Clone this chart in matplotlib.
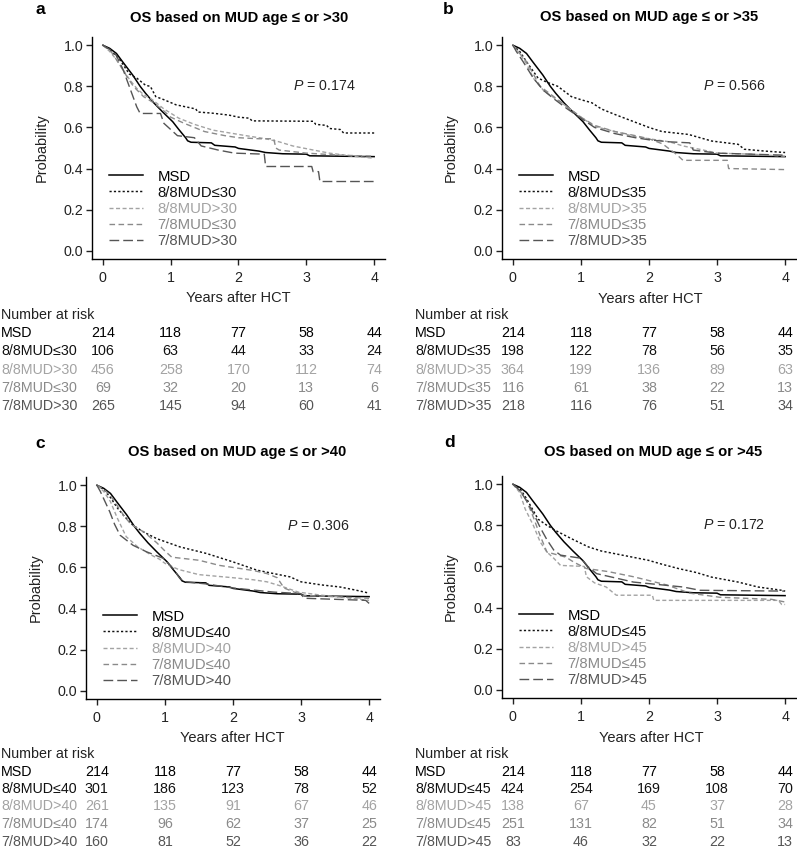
import matplotlib
matplotlib.use('Agg')
import matplotlib.pyplot as plt
from matplotlib.transforms import blended_transform_factory

plt.rcParams['font.family'] = ['Liberation Sans', 'DejaVu Sans']
plt.rcParams['mathtext.fontset'] = 'custom'
plt.rcParams['mathtext.it'] = 'Liberation Sans:italic'
plt.rcParams['mathtext.rm'] = 'Liberation Sans'

# ---------------- data ----------------
YEAR_TICKS = [0, 1, 2, 3, 4]
PROB_TICKS = [0.0, 0.2, 0.4, 0.6, 0.8, 1.0]
PANEL_LETTERS = ['a', 'b', 'c', 'd']
CUTOFFS = [30, 35, 40, 45]
P_VALUES = ['0.174', '0.566', '0.306', '0.172']

# Survival curves: vertices (years, probability)
MSD_T = [0, 0.1, 0.2, 0.29, 0.44, 0.55, 0.63, 0.75, 0.88, 1.03, 1.12, 1.22, 1.25, 1.3, 1.6, 1.65, 1.95, 2.0, 2.3, 2.4, 2.65, 3.0, 3.05, 4.0]
MSD_S = [1.0, 0.985, 0.96, 0.92, 0.855, 0.80, 0.766, 0.72, 0.676, 0.628, 0.59, 0.55, 0.535, 0.528, 0.525, 0.513, 0.505, 0.498, 0.485, 0.478, 0.472, 0.47, 0.462, 0.458]

# Panel a (cutoff 30)
A_88LE_T = [0, 0.1, 0.25, 0.39, 0.5, 0.63, 0.7, 0.78, 0.9, 1.08, 1.37, 1.4, 1.6, 1.86, 2.0, 2.16, 2.2, 3.1, 3.14, 3.3, 3.34, 3.5, 3.55, 4.0]
A_88LE_S = [1.0, 0.98, 0.93, 0.86, 0.84, 0.805, 0.80, 0.75, 0.735, 0.71, 0.69, 0.675, 0.67, 0.66, 0.65, 0.645, 0.632, 0.63, 0.615, 0.61, 0.595, 0.59, 0.573, 0.573]
A_88GT_T = [0, 0.1, 0.2, 0.3, 0.4, 0.5, 0.6, 0.73, 0.9, 1.12, 1.35, 1.62, 2.11, 2.4, 2.6, 2.8, 2.95, 3.34, 3.7, 4.0]
A_88GT_S = [1.0, 0.97, 0.93, 0.88, 0.83, 0.79, 0.76, 0.735, 0.69, 0.645, 0.615, 0.587, 0.56, 0.545, 0.53, 0.51, 0.50, 0.475, 0.46, 0.45]
A_78LE_T = [0, 0.12, 0.24, 0.35, 0.45, 0.6, 0.75, 0.9, 1.0, 1.2, 1.5, 1.8, 2.0, 2.3, 2.52, 2.55, 2.6, 3.0, 3.5, 4.0]
A_78LE_S = [1.0, 0.97, 0.91, 0.85, 0.80, 0.75, 0.72, 0.68, 0.65, 0.62, 0.58, 0.56, 0.55, 0.545, 0.545, 0.50, 0.49, 0.475, 0.465, 0.46]
A_78GT_T = [0, 0.1, 0.2, 0.3, 0.4, 0.5, 0.55, 0.85, 0.9, 1.1, 1.35, 1.45, 1.7, 1.94, 2.38, 2.4, 3.08, 3.1, 3.18, 3.2, 4.0]
A_78GT_S = [1.0, 0.98, 0.95, 0.88, 0.79, 0.70, 0.668, 0.668, 0.62, 0.56, 0.55, 0.51, 0.49, 0.475, 0.47, 0.41, 0.41, 0.385, 0.385, 0.337, 0.337]

# Panel b (cutoff 35)
B_88LE_T = [0, 0.1, 0.2, 0.37, 0.5, 0.66, 0.86, 1.0, 1.16, 1.3, 1.5, 1.84, 2.0, 2.19, 2.58, 2.92, 3.31, 3.4, 3.7, 4.0]
B_88LE_S = [1.0, 0.97, 0.92, 0.84, 0.82, 0.80, 0.75, 0.735, 0.72, 0.69, 0.663, 0.62, 0.60, 0.58, 0.566, 0.534, 0.518, 0.494, 0.485, 0.478]
B_88GT_T = [0, 0.1, 0.2, 0.3, 0.45, 0.6, 0.8, 1.0, 1.2, 1.5, 1.8, 2.0, 2.3, 2.5, 2.8, 3.0, 3.5, 4.0]
B_88GT_S = [1.0, 0.96, 0.91, 0.84, 0.78, 0.745, 0.70, 0.65, 0.605, 0.58, 0.555, 0.545, 0.53, 0.51, 0.49, 0.475, 0.47, 0.46]
B_78LE_T = [0, 0.1, 0.2, 0.3, 0.4, 0.6, 0.8, 1.0, 1.2, 1.5, 1.8, 2.0, 2.2, 2.4, 2.5, 3.15, 3.17, 4.0]
B_78LE_S = [1.0, 0.96, 0.92, 0.86, 0.80, 0.75, 0.70, 0.65, 0.61, 0.58, 0.56, 0.545, 0.52, 0.47, 0.44, 0.44, 0.40, 0.395]
B_78GT_T = [0, 0.05, 0.15, 0.3, 0.45, 0.6, 0.8, 1.0, 1.2, 1.5, 1.8, 2.0, 2.3, 2.6, 2.65, 3.0, 4.0]
B_78GT_S = [1.0, 0.97, 0.92, 0.84, 0.78, 0.74, 0.69, 0.645, 0.60, 0.57, 0.55, 0.54, 0.53, 0.525, 0.49, 0.475, 0.465]

# Panel c (cutoff 40)
C_88LE_T = [0, 0.1, 0.2, 0.3, 0.4, 0.53, 0.7, 0.88, 1.05, 1.22, 1.61, 2.0, 2.35, 2.6, 2.84, 3.0, 3.3, 3.57, 3.8, 4.0]
C_88LE_S = [1.0, 0.98, 0.94, 0.89, 0.85, 0.805, 0.77, 0.74, 0.72, 0.70, 0.668, 0.627, 0.587, 0.57, 0.554, 0.53, 0.515, 0.505, 0.49, 0.475]
C_88GT_T = [0, 0.1, 0.2, 0.3, 0.43, 0.6, 0.8, 0.92, 1.0, 1.2, 1.5, 2.0, 2.3, 2.5, 2.7, 2.96, 3.3, 3.6, 4.0]
C_88GT_S = [1.0, 0.97, 0.92, 0.84, 0.75, 0.70, 0.66, 0.64, 0.62, 0.59, 0.565, 0.55, 0.54, 0.53, 0.51, 0.48, 0.465, 0.455, 0.44]
C_78LE_T = [0, 0.1, 0.2, 0.3, 0.4, 0.5, 0.7, 0.88, 1.0, 1.1, 1.5, 1.8, 2.0, 2.3, 2.5, 2.65, 2.75, 2.9, 3.0, 4.0]
C_78LE_S = [1.0, 0.98, 0.95, 0.90, 0.85, 0.81, 0.77, 0.72, 0.68, 0.65, 0.635, 0.61, 0.60, 0.585, 0.57, 0.55, 0.50, 0.48, 0.465, 0.45]
C_78GT_T = [0, 0.05, 0.12, 0.19, 0.26, 0.34, 0.53, 0.73, 0.98, 1.05, 1.12, 1.22, 1.3, 1.6, 2.0, 2.3, 2.6, 2.99, 3.05, 3.95, 4.0]
C_78GT_S = [1.0, 0.97, 0.92, 0.87, 0.81, 0.757, 0.708, 0.676, 0.644, 0.62, 0.595, 0.546, 0.53, 0.52, 0.50, 0.49, 0.48, 0.473, 0.45, 0.44, 0.425]

# Panel d (cutoff 45)
D_88LE_T = [0, 0.1, 0.2, 0.37, 0.5, 0.62, 0.86, 1.11, 1.3, 1.5, 1.99, 2.2, 2.43, 2.7, 2.92, 3.31, 3.6, 3.95, 4.0]
D_88LE_S = [1.0, 0.98, 0.93, 0.83, 0.80, 0.776, 0.735, 0.695, 0.675, 0.662, 0.63, 0.61, 0.59, 0.57, 0.548, 0.524, 0.50, 0.484, 0.48]
D_88GT_T = [0, 0.1, 0.18, 0.3, 0.4, 0.5, 0.6, 0.7, 1.05, 1.08, 1.2, 1.37, 1.52, 2.05, 2.07, 3.9, 3.95, 4.0]
D_88GT_S = [1.0, 0.96, 0.88, 0.80, 0.72, 0.67, 0.64, 0.605, 0.60, 0.55, 0.52, 0.50, 0.46, 0.46, 0.435, 0.435, 0.415, 0.415]
D_78LE_T = [0, 0.1, 0.2, 0.3, 0.4, 0.5, 0.78, 0.9, 1.08, 1.4, 1.77, 2.26, 2.6, 3.04, 3.8, 4.0]
D_78LE_S = [1.0, 0.97, 0.92, 0.84, 0.75, 0.67, 0.645, 0.62, 0.59, 0.575, 0.55, 0.51, 0.47, 0.45, 0.44, 0.427]
D_78GT_T = [0, 0.1, 0.2, 0.3, 0.4, 0.5, 0.6, 0.7, 1.0, 1.1, 1.23, 1.77, 2.5, 2.75, 4.0]
D_78GT_S = [1.0, 0.97, 0.92, 0.86, 0.79, 0.73, 0.68, 0.655, 0.64, 0.60, 0.565, 0.524, 0.50, 0.484, 0.48]

# Numbers at risk at 0,1,2,3,4 years
MSD_RISK = [214, 118, 77, 58, 44]
A_RISK_88LE = [106, 63, 44, 33, 24]
A_RISK_88GT = [456, 258, 170, 112, 74]
A_RISK_78LE = [69, 32, 20, 13, 6]
A_RISK_78GT = [265, 145, 94, 60, 41]
B_RISK_88LE = [198, 122, 78, 56, 35]
B_RISK_88GT = [364, 199, 136, 89, 63]
B_RISK_78LE = [116, 61, 38, 22, 13]
B_RISK_78GT = [218, 116, 76, 51, 34]
C_RISK_88LE = [301, 186, 123, 78, 52]
C_RISK_88GT = [261, 135, 91, 67, 46]
C_RISK_78LE = [174, 96, 62, 37, 25]
C_RISK_78GT = [160, 81, 52, 36, 22]
D_RISK_88LE = [424, 254, 169, 108, 70]
D_RISK_88GT = [138, 67, 45, 37, 28]
D_RISK_78LE = [251, 131, 82, 51, 34]
D_RISK_78GT = [83, 46, 32, 22, 13]

# ---------------- styles / layout ----------------
COLORS = ['#000000', '#111111', '#a3a3a3', '#8a8a8a', '#555555']
DASHES = [None, (1.5, 1.5), (2.9, 1.8), (4.0, 2.5), (7.0, 2.9)]
LWS = [1.1, 1.05, 1.0, 1.0, 1.0]
FS_TICK = 10.3
FS_LAB = 10.5
FS_TABLE = 10.3
FS_LEG = 10.7
FS_TITLE = 10.6

W, H = 797, 850
fig = plt.figure(figsize=(W / 100, H / 100), dpi=100)

def fx(px):
    return px / W

def fy(py):
    return 1 - py / H

# axes rectangles in pixels: left, top, right, bottom
AX_PX = [(92, 37, 385, 259), (502, 37, 796, 259), (86, 477, 380, 699), (502, 476, 796, 698)]
LETTER_PX = [(40, 10), (448, 9), (40, 444), (450, 443)]
TITLE_PX = [(239, 18), (649, 17), (237, 452), (653, 452)]
YLAB_PX = [(42, 148), (451, 148), (36, 588), (451, 587)]
XLAB_PX = [(238, 298), (650, 299), (232, 738), (651, 738)]
TABLE_LABEL_X = [1, 415, 1, 415]
TABLE_Y0 = [315, 315, 754, 754]
ROW_STEP = [18.2, 18.2, 17.5, 17.5]

curves = [
    [(MSD_T, MSD_S), (A_88LE_T, A_88LE_S), (A_88GT_T, A_88GT_S), (A_78LE_T, A_78LE_S), (A_78GT_T, A_78GT_S)],
    [(MSD_T, MSD_S), (B_88LE_T, B_88LE_S), (B_88GT_T, B_88GT_S), (B_78LE_T, B_78LE_S), (B_78GT_T, B_78GT_S)],
    [(MSD_T, MSD_S), (C_88LE_T, C_88LE_S), (C_88GT_T, C_88GT_S), (C_78LE_T, C_78LE_S), (C_78GT_T, C_78GT_S)],
    [(MSD_T, MSD_S), (D_88LE_T, D_88LE_S), (D_88GT_T, D_88GT_S), (D_78LE_T, D_78LE_S), (D_78GT_T, D_78GT_S)],
]
risks = [
    [MSD_RISK, A_RISK_88LE, A_RISK_88GT, A_RISK_78LE, A_RISK_78GT],
    [MSD_RISK, B_RISK_88LE, B_RISK_88GT, B_RISK_78LE, B_RISK_78GT],
    [MSD_RISK, C_RISK_88LE, C_RISK_88GT, C_RISK_78LE, C_RISK_78GT],
    [MSD_RISK, D_RISK_88LE, D_RISK_88GT, D_RISK_78LE, D_RISK_78GT],
]

for i in range(4):
    l, t, r, b = AX_PX[i]
    ax = fig.add_axes([fx(l), fy(b), fx(r - l), (b - t) / H])
    c = CUTOFFS[i]
    labels = ['MSD', f'8/8MUD\u2264{c}', f'8/8MUD>{c}', f'7/8MUD\u2264{c}', f'7/8MUD>{c}']
    for k, (tt, ss) in enumerate(curves[i]):
        ln, = ax.plot(tt, ss, color=COLORS[k], lw=LWS[k], label=labels[k])
        if DASHES[k] is not None:
            ln.set_dashes(DASHES[k])
    ax.set_xlim(-0.16, 4.16)
    ax.set_ylim(-0.04, 1.04)
    ax.set_xticks(YEAR_TICKS)
    ax.set_yticks(PROB_TICKS)
    ax.set_yticklabels([f'{v:.1f}' for v in PROB_TICKS])
    for side in ['top', 'right']:
        ax.spines[side].set_visible(False)
    for side in ['left', 'bottom']:
        ax.spines[side].set_linewidth(1.0)
    ax.tick_params(axis='both', direction='out', length=4.3, width=1.0, labelsize=FS_TICK, colors='#222222')
    ax.tick_params(axis='x', pad=4.5)
    ax.tick_params(axis='y', pad=2)

    ax.legend(loc='lower left', bbox_to_anchor=(0.058, 0.05), frameon=False,
              fontsize=FS_LEG, handlelength=2.3, handletextpad=0.95, labelspacing=0.14,
              borderpad=0, borderaxespad=0, labelcolor=COLORS)

    ax.text(2.8, 0.8, r'$P$ = ' + P_VALUES[i], fontsize=10.2, ha='left', va='center', color='#222222')

    lx, ly = LETTER_PX[i]
    fig.text(fx(lx), fy(ly), PANEL_LETTERS[i], fontsize=12.5, fontweight='bold', ha='center', va='center')
    tx, ty = TITLE_PX[i]
    fig.text(fx(tx), fy(ty), f'OS based on MUD age \u2264 or >{c}', fontsize=FS_TITLE, fontweight='bold',
             ha='center', va='center')
    yx, yy = YLAB_PX[i]
    fig.text(fx(yx), fy(yy), 'Probability', fontsize=FS_LAB, rotation=90, ha='center', va='center', color='#222222')
    xx, xy = XLAB_PX[i]
    fig.text(fx(xx), fy(xy), 'Years after HCT', fontsize=FS_LAB, ha='center', va='center', color='#222222')

    # number at risk table
    trans = blended_transform_factory(ax.transData, fig.transFigure)
    fig.text(fx(TABLE_LABEL_X[i]), fy(TABLE_Y0[i]), 'Number at risk', fontsize=FS_TABLE, ha='left', va='center',
             color='#222222')
    for k in range(5):
        yrow = fy(TABLE_Y0[i] + ROW_STEP[i] * (k + 1))
        fig.text(fx(TABLE_LABEL_X[i]), yrow, labels[k], fontsize=FS_TABLE, ha='left', va='center', color=COLORS[k])
        for j, yr in enumerate(YEAR_TICKS):
            ax.text(yr, yrow, str(risks[i][k][j]), transform=trans, fontsize=FS_TABLE, ha='center', va='center',
                    color=COLORS[k], clip_on=False)

fig.savefig('out.png', dpi=100)
